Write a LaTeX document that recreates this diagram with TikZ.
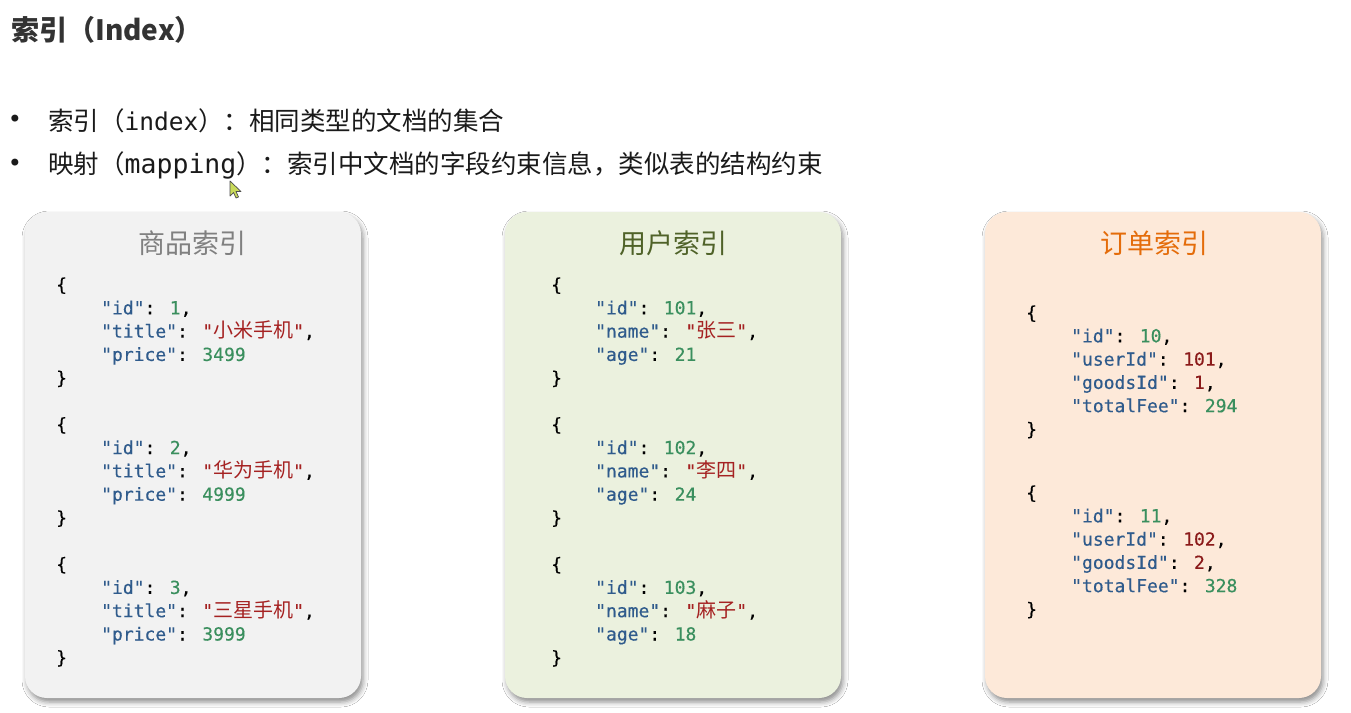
\documentclass[tikz,border=0pt]{standalone}
\usepackage{fontspec}
\usetikzlibrary{shadows.blur}
\setmainfont{Noto Sans CJK SC}
\newfontfamily\cjk{Noto Sans CJK SC}
\newfontfamily\codefont{DejaVu Sans Mono}[FakeBold=0.35]
\newfontfamily\plainmono{DejaVu Sans Mono}
\newfontfamily\dejavu{DejaVu Sans}
\definecolor{keyc}{HTML}{2F5B8C}
\definecolor{numc}{HTML}{3A8F5E}
\definecolor{strc}{HTML}{A52222}
\definecolor{refc}{HTML}{8B1A1A}
\definecolor{headc}{HTML}{333333}
\definecolor{bodyc}{HTML}{1A1A1A}
\definecolor{boxgrey}{HTML}{F2F2F2}
\definecolor{boxgreen}{HTML}{EBF1DE}
\definecolor{boxpeach}{HTML}{FDE9D9}
\definecolor{tgrey}{HTML}{808080}
\definecolor{tgreen}{HTML}{4F6228}
\definecolor{torange}{HTML}{E46C0A}
\definecolor{cursorc}{HTML}{C9DA5A}
\newcommand\jk[1]{\textcolor{keyc}{"#1"}}
\newcommand\jn[1]{\textcolor{numc}{#1}}
\newcommand\jr[1]{\textcolor{refc}{#1}}
\newcommand\js[1]{\textcolor{strc}{"{\cjk\fontsize{20}{22}\selectfont #1}"}}
\begin{document}
\begin{tikzpicture}[x=1pt,y=-1pt,
  panel/.style={rounded corners=22pt, minimum width=336pt, minimum height=486pt, inner sep=0pt,
    blur shadow={shadow xshift=2pt,shadow yshift=-4pt,shadow blur radius=5pt,shadow opacity=45}},
  paneltitle/.style={inner sep=0pt, font=\cjk\fontsize{27}{30}\selectfont},
  code/.style={anchor=base west, inner sep=0pt, font=\codefont\fontsize{18}{22}\selectfont},
  bulletdot/.style={inner sep=0pt, text=bodyc, font=\dejavu\fontsize{24}{26}\selectfont},
  bullettext/.style={anchor=west, inner sep=0pt, text=bodyc, font=\cjk\fontsize{25.5}{28}\selectfont}]
\fill[white] (0,0) rectangle (1351,712);
\useasboundingbox (0,0) rectangle (1351,712);

% heading and bullets
\node[anchor=west, inner sep=0pt, text=headc, font=\cjk\bfseries\fontsize{28}{32}\selectfont] (head) at (11,30) {索引（Index）};
\node[bulletdot] (b1) at (15,121) {•};
\node[bullettext] (l1) at (48,121) {索引（{\plainmono\fontsize{24.5}{28}\selectfont index}）：相同类型的文档的集合};
\node[bulletdot] (b2) at (15,165) {•};
\node[bullettext] (l2) at (48,165) {映射（{\plainmono\fontsize{26.5}{28}\selectfont mapping}）：索引中文档的字段约束信息，类似表的结构约束};

% mouse cursor
\filldraw[fill=cursorc, draw=black!70, line width=0.7pt, line join=round]
  (230,181) -- (230,196) -- (233.5,192.5) -- (236,198) -- (238.5,197) -- (236,191.5) -- (241,191.5) -- cycle;

% panels
\node[panel, fill=boxgrey] (p1) at (193,455) {};
\node[panel, fill=boxgreen] (p2) at (673,455) {};
\node[panel, fill=boxpeach] (p3) at (1153,455) {};

\node[paneltitle, text=tgrey] (t1) at (192,243) {商品索引};
\node[paneltitle, text=tgreen] (t2) at (673,243) {用户索引};
\node[paneltitle, text=torange] (t3) at (1154,243) {订单索引};

% goods index
\node[code] (g0) at (56,291) {\{};
\node[code] (g1) at (101,314.3) {\jk{id}: \jn{1},};
\node[code] (g2) at (101,337.6) {\jk{title}: \js{小米手机},};
\node[code] (g3) at (101,360.9) {\jk{price}: \jn{3499}};
\node[code] (g4) at (56,384.2) {\}};
\node[code] (g5) at (56,430.8) {\{};
\node[code] (g6) at (101,454.1) {\jk{id}: \jn{2},};
\node[code] (g7) at (101,477.4) {\jk{title}: \js{华为手机},};
\node[code] (g8) at (101,500.7) {\jk{price}: \jn{4999}};
\node[code] (g9) at (56,524) {\}};
\node[code] (g10) at (56,570.6) {\{};
\node[code] (g11) at (101,593.9) {\jk{id}: \jn{3},};
\node[code] (g12) at (101,617.2) {\jk{title}: \js{三星手机},};
\node[code] (g13) at (101,640.5) {\jk{price}: \jn{3999}};
\node[code] (g14) at (56,663.8) {\}};

% user index
\node[code] (u0) at (551,291) {\{};
\node[code] (u1) at (595,314.3) {\jk{id}: \jn{101},};
\node[code] (u2) at (595,337.6) {\jk{name}: \js{张三},};
\node[code] (u3) at (595,360.9) {\jk{age}: \jn{21}};
\node[code] (u4) at (551,384.2) {\}};
\node[code] (u5) at (551,430.8) {\{};
\node[code] (u6) at (595,454.1) {\jk{id}: \jn{102},};
\node[code] (u7) at (595,477.4) {\jk{name}: \js{李四},};
\node[code] (u8) at (595,500.7) {\jk{age}: \jn{24}};
\node[code] (u9) at (551,524) {\}};
\node[code] (u10) at (551,570.6) {\{};
\node[code] (u11) at (595,593.9) {\jk{id}: \jn{103},};
\node[code] (u12) at (595,617.2) {\jk{name}: \js{麻子},};
\node[code] (u13) at (595,640.5) {\jk{age}: \jn{18}};
\node[code] (u14) at (551,663.8) {\}};

% order index
\node[code] (o0) at (1026,319) {\{};
\node[code] (o1) at (1071,342.3) {\jk{id}: \jn{10},};
\node[code] (o2) at (1071,365.6) {\jk{userId}: \jr{101},};
\node[code] (o3) at (1071,388.9) {\jk{goodsId}: \jr{1},};
\node[code] (o4) at (1071,412.2) {\jk{totalFee}: \jn{294}};
\node[code] (o5) at (1026,435.5) {\}};
\node[code] (o6) at (1026,499) {\{};
\node[code] (o7) at (1071,522.3) {\jk{id}: \jn{11},};
\node[code] (o8) at (1071,545.6) {\jk{userId}: \jr{102},};
\node[code] (o9) at (1071,568.9) {\jk{goodsId}: \jr{2},};
\node[code] (o10) at (1071,592.2) {\jk{totalFee}: \jn{328}};
\node[code] (o11) at (1026,615.5) {\}};
\end{tikzpicture}
\end{document}
